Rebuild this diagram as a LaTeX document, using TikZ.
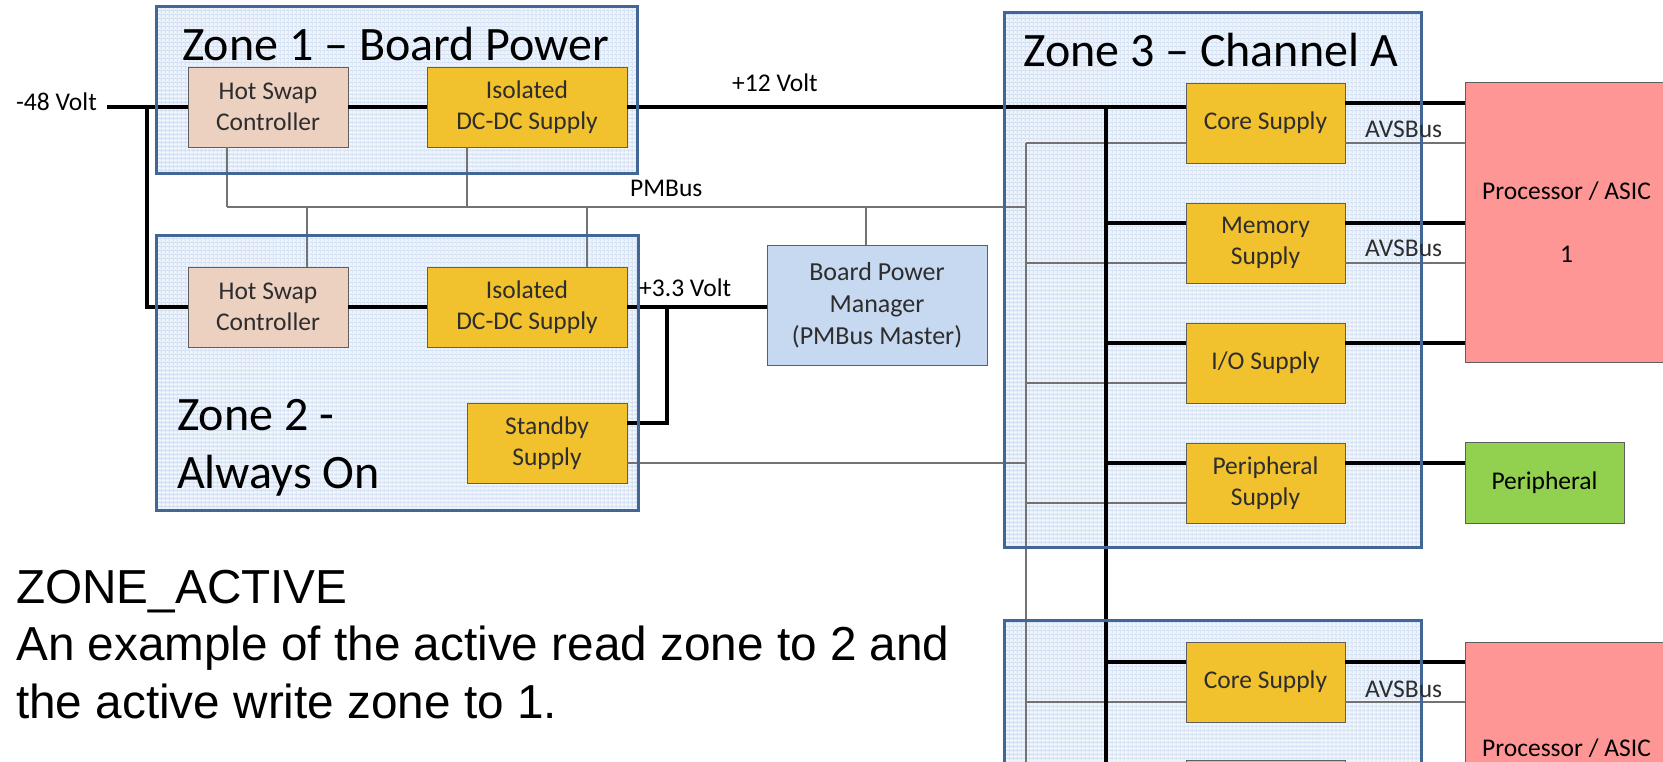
\documentclass[tikz,border=0pt]{standalone}
\usepackage{fontspec}
\setmainfont{Carlito}
\newfontfamily\arialf{Liberation Sans}
\usetikzlibrary{patterns.meta}

\definecolor{zonefill}{RGB}{240,244,251}
\definecolor{zonegrid}{RGB}{210,224,242}
\definecolor{zoneline}{RGB}{66,102,150}
\definecolor{hsfill}{RGB}{236,208,192}
\definecolor{supfill}{RGB}{242,193,46}
\definecolor{bpmfill}{RGB}{198,217,240}
\definecolor{procfill}{RGB}{255,150,150}
\definecolor{perfill}{RGB}{146,208,80}
\definecolor{boxline}{RGB}{95,95,95}
\definecolor{pmgray}{RGB}{115,115,115}
\definecolor{txtgray}{RGB}{45,45,45}

\begin{document}
\begin{tikzpicture}[x=1pt,y=-1pt,
  zonebg/.style={fill=zonefill, draw=none, inner sep=0pt},
  zoneedge/.style={draw=zoneline, line width=3pt},
  blk/.style={draw=boxline, line width=0.9pt, inner sep=0pt, align=center, text=txtgray,
              font=\fontsize{25.5}{31.5}\selectfont},
  hsbox/.style={blk, fill=hsfill, minimum width=160pt, minimum height=80pt},
  supbox/.style={blk, fill=supfill, minimum height=80pt},
  pwr/.style={line width=3.5pt, black},
  pm/.style={line width=1.3pt, pmgray},
  lbl/.style={inner sep=0pt, font=\fontsize{25.5}{31.5}\selectfont, text=black},
  ztitle/.style={inner sep=0pt, font=\fontsize{48}{58}\selectfont, text=black, align=left}
]
\useasboundingbox (0,0) rectangle (1663,762);
\fill[white] (0,0) rectangle (1663,762);
\clip (0,0) rectangle (1663,762);

% zones (background)
\node[zonebg, minimum width=480pt, minimum height=166pt] (z1) at (397,90) {};
\node[zonebg, minimum width=481pt, minimum height=274pt] (z2) at (397.5,373) {};
\node[zonebg, minimum width=416pt, minimum height=534pt] (z3) at (1213,280) {};
\node[zonebg, minimum width=416pt, minimum height=179pt] (z4) at (1213,710.5) {};
\foreach \z in {z1,z2,z3,z4}{
  \path[pattern={Lines[angle=0,distance=4pt,line width=1pt]}, pattern color=zonegrid]
    (\z.north west) rectangle (\z.south east);
  \path[pattern={Lines[angle=90,distance=4pt,line width=1pt]}, pattern color=zonegrid]
    (\z.north west) rectangle (\z.south east);
}

% blocks
\node[hsbox] (hs1) at (268,107) {Hot Swap\\Controller};
\node[supbox, minimum width=200pt] (iso1) at (527,107) {Isolated\\DC-DC Supply};
\node[hsbox] (hs2) at (268,307) {Hot Swap\\Controller};
\node[supbox, minimum width=200pt] (iso2) at (527,307) {Isolated\\DC-DC Supply};
\node[supbox, minimum width=160pt] (sb) at (547,443) {Standby\\Supply};
\node[blk, fill=bpmfill, minimum width=220pt, minimum height=120pt, font=\fontsize{26}{32}\selectfont] (bpm) at (877,305) {Board Power\\Manager\\(PMBus Master)};
\node[supbox, minimum width=159pt] (core) at (1265.5,123) {Core Supply};
\node[supbox, minimum width=159pt] (mem) at (1265.5,243) {Memory\\Supply};
\node[supbox, minimum width=159pt] (io) at (1265.5,363) {I/O Supply};
\node[supbox, minimum width=159pt] (per) at (1265.5,483) {Peripheral\\Supply};
\node[supbox, minimum width=159pt] (core2) at (1265.5,682) {Core Supply};
\node[supbox, minimum width=159pt] (mem2) at (1265.5,800) {};
\node[blk, fill=procfill, minimum width=203pt, minimum height=280pt, text=black] (proc1) at (1566.5,222) {Processor / ASIC\\[31.5pt]1};
\node[blk, fill=perfill, minimum width=159pt, minimum height=81pt, text=black] (periph) at (1544.5,482.5) {Peripheral};
\node[blk, fill=procfill, minimum width=203pt, minimum height=280pt] (proc2) at (1566.5,782) {};
\node[lbl, anchor=base, text=black] (proc2t) at (1566.5,756) {Processor / ASIC};

% helper coordinates
\foreach \s in {core,mem,io,per,core2}{
  \coordinate (\s-pi) at ([yshift=20pt]\s.west);
  \coordinate (\s-po) at ([yshift=20pt]\s.east);
  \coordinate (\s-bi) at ([yshift=-20pt]\s.west);
  \coordinate (\s-bo) at ([yshift=-20pt]\s.east);
}
\coordinate (sbpo) at ([yshift=20pt]sb.east);
\coordinate (sbbo) at ([yshift=-20pt]sb.east);
\coordinate (in48) at (107,107);
\coordinate (j48) at (147,107);
\coordinate (tx) at (1106,0);
\coordinate (gx) at (1026,0);
\coordinate (bot) at (0,775);
\coordinate (pmL) at (227,207);
\coordinate (pm2) at (467,207);
\coordinate (pm3) at (307,207);
\coordinate (pm4) at (587,207);
\coordinate (pm5) at (866,207);
\coordinate (j33) at (667,307);

% PMBus (thin)
\draw[pm] (pmL) -- (pmL -| gx);
\draw[pm] (hs1.south -| pmL) -- (pmL);
\draw[pm] (iso1.south -| pm2) -- (pm2);
\draw[pm] (pm3) -- (hs2.north -| pm3);
\draw[pm] (pm4) -- (iso2.north -| pm4);
\draw[pm] (pm5) -- (bpm.north -| pm5);
\draw[pm] (sbbo) -- (sbbo -| gx);
\draw[pm] (gx |- core-bi) -- (gx |- bot);
\foreach \s in {core,mem,io,per,core2}{
  \draw[pm] (\s-bi -| gx) -- (\s-bi);
}
\draw[pm] (core-bo) -- (core-bo -| proc1.west);
\draw[pm] (mem-bo) -- (mem-bo -| proc1.west);
\draw[pm] (core2-bo) -- (core2-bo -| proc2.west);

% power (thick)
\draw[pwr] (in48) -- (hs1.west);
\draw[pwr] (j48) |- (hs2.west);
\draw[pwr] (hs1.east) -- (iso1.west);
\draw[pwr] (hs2.east) -- (iso2.west);
\draw[pwr] (iso1.east) -- (iso1.east -| core.west);
\draw[pwr] (iso2.east) -- (iso2.east -| bpm.west);
\draw[pwr] (j33) |- (sbpo);
\draw[pwr] (tx |- iso1.east) -- (tx |- bot);
\foreach \s in {mem,io,per,core2}{
  \draw[pwr] (\s-pi -| tx) -- (\s-pi);
}
\draw[pwr] (core-po) -- (core-po -| proc1.west);
\draw[pwr] (mem-po) -- (mem-po -| proc1.west);
\draw[pwr] (io-po) -- (io-po -| proc1.west);
\draw[pwr] (per-po) -- (per-po -| periph.west);
\draw[pwr] (core2-po) -- (core2-po -| proc2.west);

% zone borders
\foreach \z in {z1,z2,z3,z4}{
  \draw[zoneedge] (\z.north west) rectangle (\z.south east);
}

% labels
\node[lbl, anchor=base east] (l48) at (97,111) {-48 Volt};
\node[lbl, anchor=base west] (l12) at (732,92) {+12 Volt};
\node[lbl, anchor=base west] (lpm) at (630,197) {PMBus};
\node[lbl, anchor=base west] (l33) at (639,296) {+3.3 Volt};
\node[lbl, anchor=base west, text=txtgray] (av1) at (1365,138) {AVSBus};
\node[lbl, anchor=base west, text=txtgray] (av2) at (1365,257) {AVSBus};
\node[lbl, anchor=base west, text=txtgray] (av3) at (1365,697) {AVSBus};

\node[ztitle, anchor=base west] (t1) at (182,61) {Zone 1 – Board Power};
\node[ztitle, anchor=base west] (t2) at (177,488) {Zone 2 -\\Always On};
\node[ztitle, anchor=base west] (t3) at (1023,67) {Zone 3 – Channel A};

\node[inner sep=0pt, anchor=base west, align=left, font=\arialf\fontsize{47.7}{57.5}\selectfont] (note) at (16,718)
  {ZONE\_ACTIVE\\An example of the active read zone to 2 and\\the active write zone to 1.};
\end{tikzpicture}
\end{document}
